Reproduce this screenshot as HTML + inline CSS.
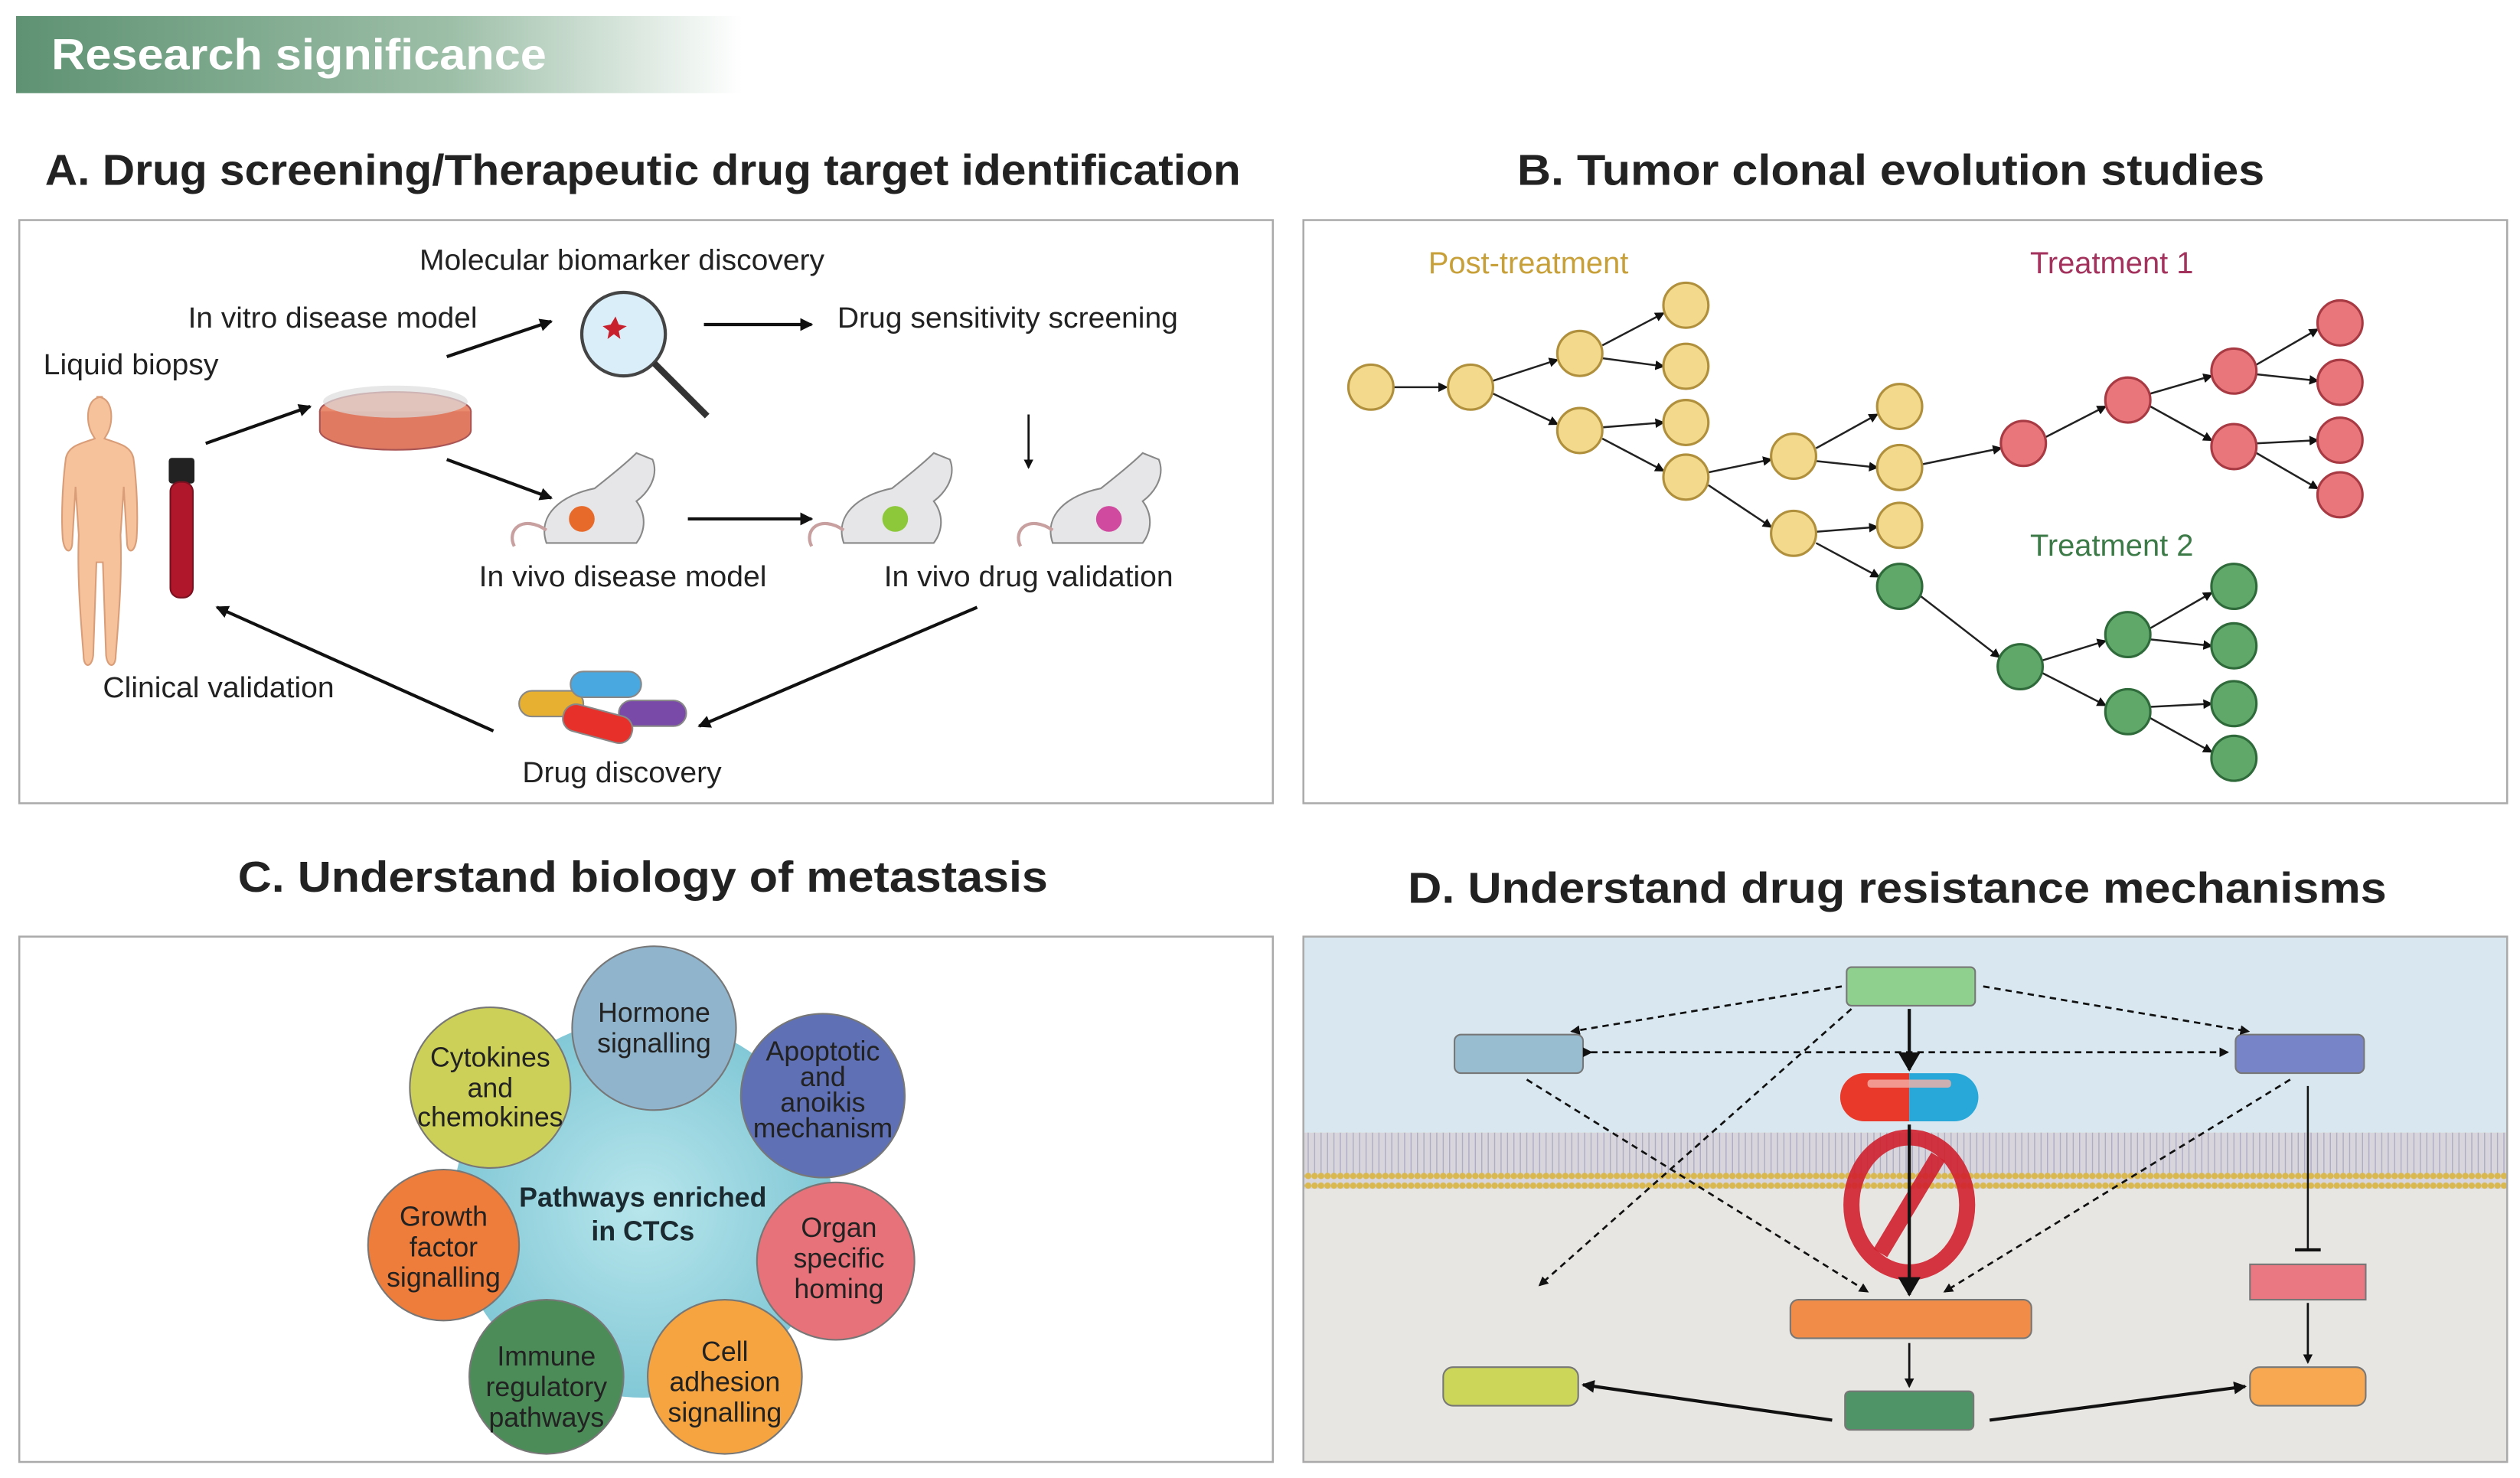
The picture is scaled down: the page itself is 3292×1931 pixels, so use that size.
<!DOCTYPE html>
<html><head><meta charset="utf-8"><style>html,body{margin:0;padding:0;background:#fff}svg{display:block}</style></head><body>
<svg width="3292" height="1931" viewBox="0 0 1568 920" preserveAspectRatio="none" xmlns="http://www.w3.org/2000/svg" font-family="Liberation Sans, sans-serif">
<defs>
<linearGradient id="hd" x1="0" x2="1"><stop offset="0" stop-color="#5e9272"/><stop offset="0.6" stop-color="#9dbfa8"/><stop offset="1" stop-color="#ffffff"/></linearGradient>
<marker id="ar" markerWidth="8" markerHeight="8" refX="7" refY="4" orient="auto" markerUnits="userSpaceOnUse"><path d="M0,0 L8,4 L0,8 z" fill="#111"/></marker>
<marker id="ars" markerWidth="6" markerHeight="6" refX="5" refY="3" orient="auto" markerUnits="userSpaceOnUse"><path d="M0,0 L6,3 L0,6 z" fill="#111"/></marker>
<marker id="arb" markerWidth="12" markerHeight="14" refX="11" refY="7" orient="auto" markerUnits="userSpaceOnUse"><path d="M0,0 L12,7 L0,14 z" fill="#111"/></marker>
<pattern id="mem" width="4" height="35" patternUnits="userSpaceOnUse"><rect width="4" height="35" fill="#d8d6dc"/><circle cx="2" cy="3" r="2" fill="#d9b850"/><circle cx="2" cy="32" r="2" fill="#d9b850"/><line x1="2" y1="5" x2="2" y2="30" stroke="#a8a8c0" stroke-width="0.6"/></pattern>
<radialGradient id="cb"><stop offset="0" stop-color="#b8e6ec"/><stop offset="1" stop-color="#82c8d6"/></radialGradient>
</defs>
<rect x="10" y="10" width="452" height="48" fill="url(#hd)"/>
<text x="32" y="43" font-size="27" font-weight="bold" fill="#fff" textLength="308" lengthAdjust="spacingAndGlyphs">Research significance</text>
<g font-size="27" font-weight="bold" fill="#222">
<text x="28" y="115" textLength="744" lengthAdjust="spacingAndGlyphs">A. Drug screening/Therapeutic drug target identification</text>
<text x="944" y="115" textLength="465" lengthAdjust="spacingAndGlyphs">B. Tumor clonal evolution studies</text>
<text x="148" y="555" textLength="504" lengthAdjust="spacingAndGlyphs">C. Understand biology of metastasis</text>
<text x="876" y="562" textLength="609" lengthAdjust="spacingAndGlyphs">D. Understand drug resistance mechanisms</text>
</g>
<g fill="none" stroke="#aaa" stroke-width="1.2">
<rect x="12" y="137" width="780" height="363" fill="#fff"/>
<rect x="811" y="137" width="749" height="363" fill="#fff"/>
<rect x="12" y="583" width="780" height="327" fill="#fff"/>
</g>
<!-- Panel A -->
<g font-size="18" fill="#222">
<text x="261" y="168" textLength="252" lengthAdjust="spacingAndGlyphs">Molecular biomarker discovery</text>
<text x="117" y="204" textLength="180" lengthAdjust="spacingAndGlyphs">In vitro disease model</text>
<text x="521" y="204" textLength="212" lengthAdjust="spacingAndGlyphs">Drug sensitivity screening</text>
<text x="27" y="233" textLength="109" lengthAdjust="spacingAndGlyphs">Liquid biopsy</text>
<text x="298" y="365" textLength="179" lengthAdjust="spacingAndGlyphs">In vivo disease model</text>
<text x="550" y="365" textLength="180" lengthAdjust="spacingAndGlyphs">In vivo drug validation</text>
<text x="64" y="434" textLength="144" lengthAdjust="spacingAndGlyphs">Clinical validation</text>
<text x="325" y="487" textLength="124" lengthAdjust="spacingAndGlyphs">Drug discovery</text>
</g>
<path d="M64,247 c-8,0 -10,8 -9,16 c1,6 3,8 4,10 c-8,3 -16,4 -18,12 c-2,15 -3,35 -2,50 c1,10 6,10 6,2 l2,-34 l2,30 c-1,25 1,50 3,75 c0,8 5,8 6,0 l2,-58 h4 l2,58 c1,8 6,8 6,0 c2,-25 4,-50 3,-75 l2,-30 l2,34 c0,8 5,8 6,-2 c1,-15 0,-35 -2,-50 c-2,-8 -10,-9 -18,-12 c1,-2 3,-4 4,-10 c1,-8 -1,-16 -9,-16z" fill="#f6c29c" stroke="#d99d78"/>
<rect x="105" y="285" width="16" height="16" rx="2" fill="#222"/>
<rect x="106" y="300" width="14" height="72" rx="6" fill="#b0172a" stroke="#7a1020"/>
<ellipse cx="246" cy="256" rx="47" ry="12" fill="#e98a6f" stroke="#a55"/>
<path d="M199,256 v12 a47,12 0 0 0 94,0 v-12" fill="#e07a60" stroke="#a55"/>
<ellipse cx="246" cy="250" rx="45" ry="10" fill="#ddd" opacity="0.7"/>
<circle cx="388" cy="208" r="26" fill="#d9eef8" stroke="#444" stroke-width="2"/>
<path d="M380,202 l3,-5 l2,5 l5,1 l-5,3 l1,5 l-4,-3 l-4,3 l1,-5 l-4,-3z" fill="#c8202c"/>
<line x1="407" y1="226" x2="440" y2="259" stroke="#333" stroke-width="4"/>
<g fill="#e6e6e8" stroke="#888">
<path d="M340,338 c-6,-18 10,-30 30,-34 c10,-8 20,-16 26,-22 l10,4 c4,10 -2,20 -10,26 c6,8 6,18 0,26 z"/>
<path d="M525,338 c-6,-18 10,-30 30,-34 c10,-8 20,-16 26,-22 l10,4 c4,10 -2,20 -10,26 c6,8 6,18 0,26 z"/>
<path d="M655,338 c-6,-18 10,-30 30,-34 c10,-8 20,-16 26,-22 l10,4 c4,10 -2,20 -10,26 c6,8 6,18 0,26 z"/>
</g>
<g fill="none" stroke="#c8a0a0" stroke-width="2"><path d="M340,330 c-15,-10 -25,0 -20,10"/><path d="M525,330 c-15,-10 -25,0 -20,10"/><path d="M655,330 c-15,-10 -25,0 -20,10"/></g>
<circle cx="362" cy="323" r="8" fill="#e86a2a"/><circle cx="557" cy="323" r="8" fill="#8cc83a"/><circle cx="690" cy="323" r="8" fill="#d04aa0"/>
<g stroke="#888" stroke-width="1">
<rect x="323" y="430" width="40" height="16" rx="8" fill="#e8b030"/>
<rect x="355" y="418" width="44" height="16" rx="8" fill="#4aa8e0"/>
<rect x="385" y="436" width="42" height="16" rx="8" fill="#7a4aa8"/>
<rect x="350" y="442" width="44" height="17" rx="8" fill="#e8302a" transform="rotate(15 372 450)"/>
</g>
<g stroke="#111" stroke-width="2" marker-end="url(#ar)">
<line x1="128" y1="276" x2="193" y2="253"/>
<line x1="278" y1="222" x2="343" y2="200"/>
<line x1="438" y1="202" x2="505" y2="202"/>
<line x1="278" y1="286" x2="343" y2="310"/>
<line x1="428" y1="323" x2="505" y2="323"/>
<line x1="608" y1="378" x2="435" y2="452"/>
<line x1="307" y1="455" x2="135" y2="378"/>
</g>
<line x1="640" y1="258" x2="640" y2="291" stroke="#111" stroke-width="1.3" marker-end="url(#ars)"/>
<!-- Panel B -->
<g font-size="19" text-anchor="middle">
<text x="951" y="170" fill="#c8a03a">Post-treatment</text>
<text x="1314" y="170" fill="#a3325c">Treatment 1</text>
<text x="1314" y="346" fill="#3c7a48">Treatment 2</text>
</g>
<g stroke="#222" stroke-width="1.2" marker-end="url(#ars)">
<line x1="867" y1="241" x2="900" y2="241"/>
<line x1="929" y1="237" x2="969" y2="224"/><line x1="929" y1="245" x2="969" y2="264"/>
<line x1="997" y1="215" x2="1035" y2="195"/><line x1="997" y1="223" x2="1035" y2="228"/>
<line x1="997" y1="266" x2="1035" y2="263"/><line x1="997" y1="273" x2="1035" y2="293"/>
<line x1="1063" y1="294" x2="1102" y2="286"/><line x1="1063" y1="302" x2="1102" y2="328"/>
<line x1="1130" y1="279" x2="1168" y2="258"/><line x1="1130" y1="287" x2="1168" y2="291"/>
<line x1="1130" y1="331" x2="1168" y2="328"/><line x1="1130" y1="338" x2="1169" y2="359"/>
<line x1="1196" y1="289" x2="1245" y2="279"/>
<line x1="1273" y1="272" x2="1310" y2="253"/>
<line x1="1338" y1="245" x2="1376" y2="234"/><line x1="1338" y1="253" x2="1376" y2="274"/>
<line x1="1404" y1="227" x2="1442" y2="205"/><line x1="1404" y1="233" x2="1442" y2="237"/>
<line x1="1404" y1="276" x2="1442" y2="274"/><line x1="1404" y1="282" x2="1442" y2="304"/>
<line x1="1195" y1="371" x2="1244" y2="409"/>
<line x1="1271" y1="411" x2="1310" y2="399"/><line x1="1271" y1="419" x2="1310" y2="439"/>
<line x1="1338" y1="391" x2="1376" y2="369"/><line x1="1338" y1="398" x2="1376" y2="402"/>
<line x1="1338" y1="440" x2="1376" y2="438"/><line x1="1338" y1="447" x2="1376" y2="468"/>
</g>
<g fill="#f2d98c" stroke="#b0903c" stroke-width="1.5">
<circle cx="853" cy="241" r="14"/><circle cx="915" cy="241" r="14"/><circle cx="983" cy="220" r="14"/><circle cx="983" cy="268" r="14"/>
<circle cx="1049" cy="190" r="14"/><circle cx="1049" cy="228" r="14"/><circle cx="1049" cy="263" r="14"/><circle cx="1049" cy="297" r="14"/>
<circle cx="1116" cy="284" r="14"/><circle cx="1116" cy="332" r="14"/><circle cx="1182" cy="253" r="14"/><circle cx="1182" cy="291" r="14"/><circle cx="1182" cy="327" r="14"/>
</g>
<g fill="#5fa86a" stroke="#2f6a3a" stroke-width="1.5">
<circle cx="1182" cy="365" r="14"/><circle cx="1257" cy="415" r="14"/><circle cx="1324" cy="395" r="14"/><circle cx="1324" cy="443" r="14"/>
<circle cx="1390" cy="365" r="14"/><circle cx="1390" cy="402" r="14"/><circle cx="1390" cy="438" r="14"/><circle cx="1390" cy="472" r="14"/>
</g>
<g fill="#e8767a" stroke="#a83a44" stroke-width="1.5">
<circle cx="1259" cy="276" r="14"/><circle cx="1324" cy="249" r="14"/><circle cx="1390" cy="231" r="14"/><circle cx="1390" cy="278" r="14"/>
<circle cx="1456" cy="201" r="14"/><circle cx="1456" cy="238" r="14"/><circle cx="1456" cy="274" r="14"/><circle cx="1456" cy="308" r="14"/>
</g>
<!-- Panel C -->
<circle cx="400" cy="752" r="118" fill="url(#cb)"/>
<g stroke="#777" stroke-width="1">
<circle cx="407" cy="640" r="51" fill="#8fb4cc"/>
<circle cx="512" cy="682" r="51" fill="#5f70b4"/>
<circle cx="520" cy="785" r="49" fill="#e8727a"/>
<circle cx="451" cy="857" r="48" fill="#f5a440"/>
<circle cx="340" cy="857" r="48" fill="#4c8c58"/>
<circle cx="276" cy="775" r="47" fill="#ee7c3a"/>
<circle cx="305" cy="677" r="50" fill="#cdd058"/>
</g>
<g font-size="17" fill="#222" text-anchor="middle">
<text x="407" y="636">Hormone</text><text x="407" y="655">signalling</text>
<text x="512" y="660">Apoptotic</text><text x="512" y="676">and</text><text x="512" y="692">anoikis</text><text x="512" y="708">mechanism</text>
<text x="522" y="770">Organ</text><text x="522" y="789">specific</text><text x="522" y="808">homing</text>
<text x="451" y="847">Cell</text><text x="451" y="866">adhesion</text><text x="451" y="885">signalling</text>
<text x="340" y="850">Immune</text><text x="340" y="869">regulatory</text><text x="340" y="888">pathways</text>
<text x="276" y="763">Growth</text><text x="276" y="782">factor</text><text x="276" y="801">signalling</text>
<text x="305" y="664">Cytokines</text><text x="305" y="683">and</text><text x="305" y="701">chemokines</text>
<g font-weight="bold" fill="#1a2a30"><text x="400" y="751">Pathways enriched</text><text x="400" y="772">in CTCs</text></g>
</g>
<!-- Panel D -->
<rect x="811" y="583" width="749" height="125" fill="#d9e8f0"/>
<rect x="811" y="708" width="749" height="202" fill="#e8e6e2"/>
<rect x="811" y="705" width="749" height="35" fill="url(#mem)"/>
<rect x="811" y="583" width="749" height="327" fill="none" stroke="#aaa" stroke-width="1.2"/>
<g stroke="#777" stroke-width="1">
<rect x="1149" y="602" width="80" height="24" rx="3" fill="#8fd08f"/>
<rect x="905" y="644" width="80" height="24" rx="4" fill="#98bcd0"/>
<rect x="1391" y="644" width="80" height="24" rx="4" fill="#7884c8"/>
<rect x="1114" y="809" width="150" height="24" rx="5" fill="#f08c48"/>
<rect x="1400" y="787" width="72" height="22" fill="#ea7882"/>
<rect x="898" y="851" width="84" height="24" rx="6" fill="#ccd658"/>
<rect x="1148" y="866" width="80" height="24" rx="3" fill="#4f9466"/>
<rect x="1400" y="851" width="72" height="24" rx="6" fill="#f8a850"/>
</g>
<path d="M1188,668 h-28 a15,15 0 0 0 0,30 h28z" fill="#e8392a"/>
<path d="M1188,668 h28 a15,15 0 0 1 0,30 h-28z" fill="#28a8d8"/>
<rect x="1162" y="672" width="52" height="5" rx="2" fill="#f4b0a8" opacity="0.8"/>
<g fill="none" stroke="#111" stroke-width="1.3" stroke-dasharray="4,3">
<line x1="1146" y1="614" x2="978" y2="642" marker-end="url(#ars)"/>
<line x1="1234" y1="614" x2="1399" y2="642" marker-end="url(#ars)"/>
<line x1="990" y1="655" x2="1386" y2="655" marker-end="url(#ars)" marker-start="url(#ars)"/>
<line x1="1152" y1="628" x2="958" y2="800" marker-end="url(#ars)"/>
<line x1="950" y1="672" x2="1162" y2="804" marker-end="url(#ars)"/>
<line x1="1425" y1="672" x2="1210" y2="804" marker-end="url(#ars)"/>
</g>
<line x1="1188" y1="628" x2="1188" y2="666" stroke="#111" stroke-width="2" marker-end="url(#arb)"/>
<ellipse cx="1188" cy="750" rx="36" ry="42" fill="none" stroke="#d0202e" stroke-width="10" opacity="0.9"/>
<line x1="1170" y1="780" x2="1206" y2="720" stroke="#d0202e" stroke-width="10" opacity="0.9"/>
<line x1="1188" y1="700" x2="1188" y2="806" stroke="#111" stroke-width="2" marker-end="url(#arb)"/>
<line x1="1436" y1="676" x2="1436" y2="778" stroke="#111" stroke-width="1.2"/>
<line x1="1428" y1="778" x2="1444" y2="778" stroke="#111" stroke-width="2"/>
<g stroke="#111" stroke-width="1.3" marker-end="url(#ars)">
<line x1="1436" y1="811" x2="1436" y2="848"/>
<line x1="1188" y1="836" x2="1188" y2="863"/>
</g>
<g stroke="#111" stroke-width="2" marker-end="url(#ar)">
<line x1="1140" y1="884" x2="985" y2="862"/>
<line x1="1238" y1="884" x2="1397" y2="863"/>
</g>
</svg>
</body></html>
